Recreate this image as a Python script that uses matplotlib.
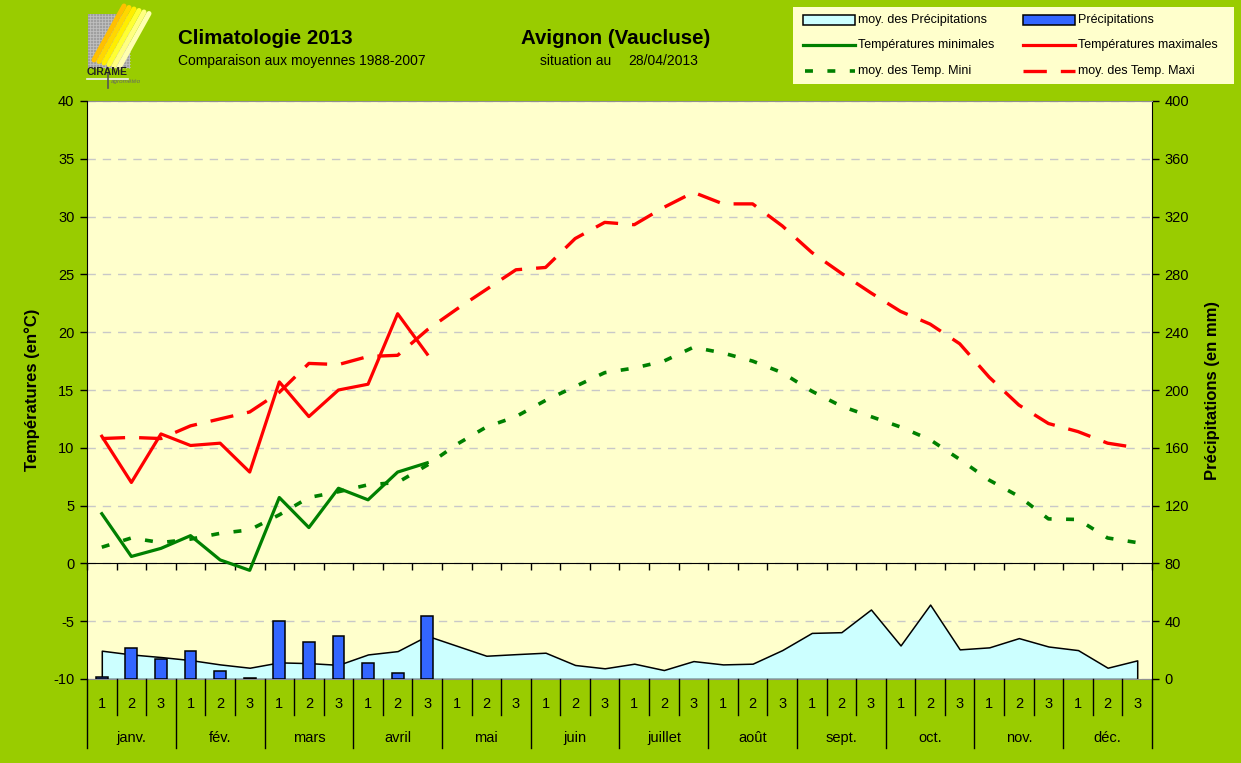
import matplotlib
matplotlib.use('Agg')
import matplotlib.pyplot as plt
import numpy as np
import matplotlib.transforms as mtrans
from matplotlib.patches import Rectangle
from matplotlib.lines import Line2D

# ---------------- data ----------------
months = ['janv.', 'fév.', 'mars', 'avril', 'mai', 'juin', 'juillet', 'août',
          'sept.', 'oct.', 'nov.', 'déc.']
decade_labels = ['1', '2', '3'] * 12

tmax_2013 = [11.0, 7.0, 11.2, 10.2, 10.4, 7.9, 15.7, 12.7, 15.0, 15.5, 21.6, 18.1]
tmin_2013 = [4.3, 0.6, 1.3, 2.4, 0.3, -0.6, 5.7, 3.1, 6.5, 5.5, 7.9, 8.7]
tmax_avg = [10.8, 10.9, 10.8, 11.9, 12.5, 13.1, 14.8, 17.3, 17.2, 17.9, 18.0, 20.2,
            22.0, 23.7, 25.4, 25.6, 28.1, 29.5, 29.3, 30.8, 32.1, 31.1, 31.1, 29.2,
            26.9, 25.1, 23.4, 21.8, 20.7, 19.0, 16.1, 13.7, 12.1, 11.4, 10.4, 10.0]
tmin_avg = [1.4, 2.2, 1.8, 2.1, 2.6, 2.9, 4.2, 5.7, 6.2, 6.8, 7.0, 8.5,
            10.3, 11.8, 12.7, 14.1, 15.3, 16.5, 16.9, 17.5, 18.7, 18.2, 17.5, 16.5,
            14.9, 13.6, 12.7, 11.8, 10.7, 9.0, 7.2, 5.8, 3.85, 3.8, 2.2, 1.8]
precip_2013 = [1.6, 21.2, 13.6, 19.6, 5.8, 0.9, 40.1, 25.6, 30.1, 11.1, 4.4, 43.5]
precip_avg = [19.6, 17.0, 15.2, 13.1, 10.1, 7.8, 11.5, 11.0, 9.8, 17.0, 19.3, 29.9,
              23.0, 16.1, 17.2, 18.2, 9.7, 7.4, 10.6, 6.2, 12.4, 10.1, 10.6, 20.0,
              31.9, 32.4, 48.1, 23.2, 51.5, 20.5, 21.9, 28.3, 22.5, 20.0, 7.8, 12.9]

# ---------------- style ----------------
FONT = 'Liberation Sans'
plt.rcParams['font.family'] = [FONT, 'DejaVu Sans']
plt.rcParams['axes.unicode_minus'] = False
GREEN_BG = '#99CC00'
PLOT_BG = '#FFFFCC'
RED = '#FF0000'
DGREEN = '#008000'
BLUE = '#3366FF'
CYAN = '#CCFFFF'

W, H = 1241, 763
fig = plt.figure(figsize=(W / 100, H / 100), dpi=100, facecolor=GREEN_BG)


def fx(px):
    return px / W


def fy(py):
    return 1 - py / H


L, R, T, B = 87, 1152, 101, 679
ax = fig.add_axes([fx(L), fy(B), (R - L) / W, (B - T) / H])
ax2 = ax.twinx()
ax.set_zorder(ax2.get_zorder() + 1)
ax.patch.set_visible(False)
ax2.patch.set_visible(True)
ax2.patch.set_facecolor(PLOT_BG)

n = len(tmax_avg)
x_all = np.arange(n)
x_2013 = np.arange(len(tmax_2013))

ax.set_xlim(-0.5, n - 0.5)
ax.set_ylim(-10, 40)
ax2.set_ylim(0, 400)

# precipitation (secondary axis, behind)
ax2.set_axisbelow(True)
ax2.yaxis.grid(True, color='#C8C8C8', linestyle=(0, (6, 5)), linewidth=1)
ax2.fill_between(x_all, 0, precip_avg, facecolor=CYAN, edgecolor='black',
                 linewidth=1.1, zorder=2)
ax2.bar(x_2013, precip_2013, width=0.4, color=BLUE, edgecolor='black',
        linewidth=1.1, zorder=3)
ax2.set_yticks(np.arange(0, 401, 40))
ax2.tick_params(axis='y', direction='out', length=5, width=1, pad=4,
                labelsize=10.5, colors='black')
for s in ['top', 'bottom']:
    ax2.spines[s].set_color('#909090')
ax2.spines['right'].set_color('black')
ax2.spines['left'].set_visible(False)

# temperatures (primary axis, front)
ax.plot(x_all, tmin_avg, color=DGREEN, linewidth=2.6,
        linestyle=(0, (2.2, 4.0)), dash_capstyle='butt', zorder=3)
ax.plot(x_all, tmax_avg, color=RED, linewidth=2.4,
        linestyle=(0, (7.0, 4.2)), dash_capstyle='butt', zorder=4)
ax.plot(x_2013, tmin_2013, color=DGREEN, linewidth=2.3, zorder=5)
ax.plot(x_2013, tmax_2013, color=RED, linewidth=2.3, zorder=6)

ax.set_yticks(np.arange(-10, 41, 5))
ax.tick_params(axis='y', direction='out', length=5, width=1, pad=4,
               labelsize=10.5, colors='black')
ax.spines['top'].set_visible(False)
ax.spines['right'].set_visible(False)
ax.spines['left'].set_color('black')
ax.spines['bottom'].set_position(('data', 0))
ax.spines['bottom'].set_color('black')
ax.set_xticks(np.arange(-0.5, n, 1.0))
ax.tick_params(axis='x', direction='out', length=5, width=1, labelbottom=False)

# category labels (decades and months) below plot area
trans = mtrans.blended_transform_factory(ax.transData, ax.transAxes)
hgt = B - T
y_dec = -(704 - B) / hgt
y_mon = -(738 - B) / hgt
y_sep_dec = -(715 - B) / hgt
y_sep_mon = -(748 - B) / hgt
for i, lab in enumerate(decade_labels):
    ax.text(i, y_dec, lab, transform=trans, ha='center', va='center',
            fontsize=10.5, color='black')
for m, name in enumerate(months):
    ax.text(3 * m + 1, y_mon, name, transform=trans, ha='center', va='center',
            fontsize=10.5, color='black')
for b in np.arange(-0.5, n, 1.0):
    k = int(round(b + 0.5))
    bottom = y_sep_mon if k % 3 == 0 else y_sep_dec
    ax.add_line(Line2D([b, b], [0, bottom], transform=trans, color='black',
                       linewidth=1, clip_on=False))

# axis titles
fig.text(fx(32), fy(390), 'Températures (en°C)', rotation=90, ha='center',
         va='center', fontsize=12, fontweight='bold')
fig.text(fx(1212), fy(390), 'Précipitations (en mm)', rotation=90, ha='center',
         va='center', fontsize=12, fontweight='bold')

# header
fig.text(fx(178), fy(38), 'Climatologie 2013', ha='left', va='center',
         fontsize=14.8, fontweight='bold')
fig.text(fx(178), fy(61), 'Comparaison aux moyennes 1988-2007', ha='left',
         va='center', fontsize=10)
fig.text(fx(521), fy(38), 'Avignon (Vaucluse)', ha='left', va='center',
         fontsize=14.8, fontweight='bold')
fig.text(fx(540), fy(61), 'situation au', ha='left', va='center', fontsize=10)
fig.text(fx(698), fy(61), '28/04/2013', ha='right', va='center', fontsize=10)

# logo (approximation), coordinates in pixels relative to (84, 0)
lax = fig.add_axes([fx(84), fy(92), 80 / W, 92 / H])
lax.set_xlim(0, 80)
lax.set_ylim(92, 0)
lax.axis('off')
lax.add_patch(Rectangle((4, 14), 42, 54, facecolor='#A0A0A0', edgecolor='none'))
for gx in np.arange(6, 46, 3):
    lax.add_line(Line2D([gx, gx], [14, 68], color='#C4C4C4', linewidth=0.5))
for gy in np.arange(16, 68, 3):
    lax.add_line(Line2D([4, 46], [gy, gy], color='#C4C4C4', linewidth=0.5))
stripe_cols = ['#FFC000', '#FFD700', '#FFEE00', '#FFFF33', '#FFFF80', '#FFFFB0']
for k, c in enumerate(stripe_cols):
    lax.add_line(Line2D([40 + 5 * k, 10 + 5 * k], [6 + 1.5 * k, 60 + 1.5 * k],
                        color=c, linewidth=3.6, solid_capstyle='round'))
lax.text(3, 72, 'CIRAME', fontsize=7.5, fontweight='bold', color='#222222',
         ha='left', va='center')
lax.add_line(Line2D([3, 44], [79, 79], color='#F0F0F0', linewidth=1.2))
lax.add_line(Line2D([24, 24], [74, 88], color='#555555', linewidth=1.2))
lax.text(27, 82, 'agrométéo', fontsize=4.5, style='italic', color='#666666',
         ha='left', va='center')

# legend (drawn manually in figure pixels)
gax = fig.add_axes([0, 0, 1, 1], zorder=10)
gax.set_xlim(0, W)
gax.set_ylim(H, 0)
gax.axis('off')
gax.patch.set_visible(False)
gax.add_patch(Rectangle((793, 7), 441, 77, facecolor=PLOT_BG, edgecolor='none'))
rows = [20, 45, 71]
cols = [803, 1023]
gax.add_patch(Rectangle((cols[0], rows[0] - 5), 52, 10, facecolor=CYAN,
                        edgecolor='black', linewidth=1.1))
gax.add_patch(Rectangle((cols[1], rows[0] - 5), 52, 10, facecolor=BLUE,
                        edgecolor='black', linewidth=1.1))
gax.add_line(Line2D([cols[0], cols[0] + 52], [rows[1], rows[1]], color=DGREEN, linewidth=2.3))
gax.add_line(Line2D([cols[1], cols[1] + 52], [rows[1], rows[1]], color=RED, linewidth=2.3))
gax.add_line(Line2D([cols[0] + 2, cols[0] + 52], [rows[2], rows[2]], color=DGREEN,
                    linewidth=2.6, linestyle=(0, (2.2, 4.0)), dash_capstyle='butt'))
gax.add_line(Line2D([cols[1], cols[1] + 52], [rows[2], rows[2]], color=RED,
                    linewidth=2.4, linestyle=(0, (7.0, 4.2)), dash_capstyle='butt'))
leg_text = [('moy. des Précipitations', 'Précipitations'),
            ('Températures minimales', 'Températures maximales'),
            ('moy. des Temp. Mini', 'moy. des Temp. Maxi')]
for r, (t1, t2) in zip(rows, leg_text):
    gax.text(cols[0] + 55, r, t1, ha='left', va='center', fontsize=9)
    gax.text(cols[1] + 55, r, t2, ha='left', va='center', fontsize=9)

fig.savefig('out.png', dpi=100, facecolor=GREEN_BG)
